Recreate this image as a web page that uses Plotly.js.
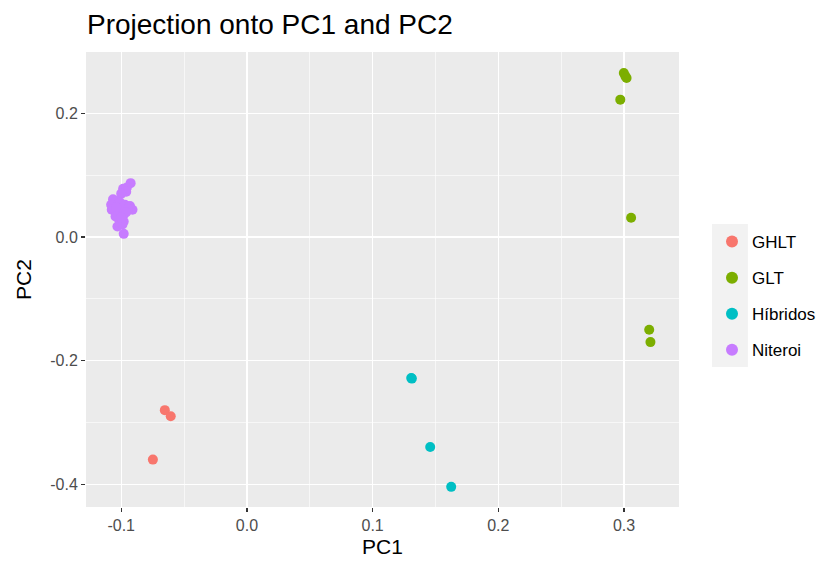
<!DOCTYPE html>
<html>
<head>
<meta charset="utf-8">
<script src="https://cdn.plot.ly/plotly-3.0.1.min.js"></script>
<style>html,body{margin:0;padding:0;background:#fff;}#chart{width:832px;height:561px;}</style>
</head>
<body>
<div id="chart"></div>
<script>
// Data
const groups = ['GHLT', 'GLT', 'Híbridos', 'Niteroi'];
const colors = ['#F8766D', '#7CAE00', '#00BFC4', '#C77CFF'];

const ghltPC1 = [-0.0653, -0.0606, -0.0748];
const ghltPC2 = [-0.280, -0.290, -0.360];

const gltPC1 = [0.2998, 0.3010, 0.3020, 0.2970, 0.3056, 0.3200, 0.3210];
const gltPC2 = [0.2650, 0.2600, 0.2570, 0.2220, 0.0310, -0.1500, -0.1700];

const hibPC1 = [0.1307, 0.1312, 0.1458, 0.1625];
const hibPC2 = [-0.228, -0.229, -0.3395, -0.404];

const nitPC1 = [-0.0925, -0.0955, -0.0985, -0.0960, -0.1000, -0.1065, -0.1040, -0.1080, -0.1075, -0.1010, -0.0970, -0.0930, -0.0910, -0.1035, -0.0980, -0.0950, -0.1020, -0.0980, -0.1030, -0.0990, -0.0980, -0.1000, -0.1040, -0.0960, -0.1045, -0.1000];
const nitPC2 = [0.087, 0.080, 0.078, 0.073, 0.070, 0.061, 0.058, 0.052, 0.044, 0.056, 0.052, 0.050, 0.044, 0.039, 0.036, 0.045, 0.029, 0.025, 0.017, 0.020, 0.005, 0.046, 0.048, 0.040, 0.033, 0.031];

const xTickVals = [-0.1, 0.0, 0.1, 0.2, 0.3];
const xTickText = ['-0.1', '0.0', '0.1', '0.2', '0.3'];
const xMinorVals = [-0.05, 0.05, 0.15, 0.25];
const yTickVals = [0.2, 0.0, -0.2, -0.4];
const yTickText = ['0.2', '0.0', '-0.2', '-0.4'];
const yMinorVals = [0.1, -0.1, -0.3];

const xs = [ghltPC1, gltPC1, hibPC1, nitPC1];
const ys = [ghltPC2, gltPC2, hibPC2, nitPC2];

const traces = groups.map((g, i) => ({
  type: 'scatter',
  mode: 'markers',
  name: g,
  legendgroup: g,
  x: xs[i],
  y: ys[i],
  marker: {color: colors[i], size: 10, line: {width: 0}},
  hoverinfo: 'x+y+name'
}));

const fontFam = 'Liberation Sans, Arial, sans-serif';

const layout = {
  width: 832,
  height: 561,
  paper_bgcolor: '#ffffff',
  plot_bgcolor: '#EBEBEB',
  margin: {l: 86, r: 152, t: 52, b: 54, pad: 0},
  font: {family: fontFam, color: '#000000'},
  title: {
    text: 'Projection onto PC1 and PC2',
    font: {family: fontFam, size: 28, color: '#000000'},
    x: 87 / 832, xanchor: 'left', xref: 'container',
    y: 1 - 24 / 561, yanchor: 'middle', yref: 'container'
  },
  xaxis: {
    range: [-0.128, 0.3437],
    tickmode: 'array', tickvals: xTickVals, ticktext: xTickText,
    ticks: 'outside', ticklen: 4, tickwidth: 1.2, tickcolor: '#333333',
    tickfont: {family: fontFam, size: 16, color: '#4D4D4D'},
    showgrid: true, gridcolor: '#FFFFFF', gridwidth: 1.3,
    minor: {tickmode: 'array', tickvals: xMinorVals, showgrid: true, gridcolor: '#FFFFFF', gridwidth: 0.6, ticks: ''},
    zeroline: false, showline: false,
    title: {text: 'PC1', font: {family: fontFam, size: 21, color: '#000000'}, standoff: 6}
  },
  yaxis: {
    range: [-0.4366, 0.299],
    tickmode: 'array', tickvals: yTickVals, ticktext: yTickText,
    ticks: 'outside', ticklen: 4, tickwidth: 1.2, tickcolor: '#333333',
    tickfont: {family: fontFam, size: 16, color: '#4D4D4D'},
    showgrid: true, gridcolor: '#FFFFFF', gridwidth: 1.3,
    minor: {tickmode: 'array', tickvals: yMinorVals, showgrid: true, gridcolor: '#FFFFFF', gridwidth: 0.6, ticks: ''},
    zeroline: false, showline: false,
    title: {text: 'PC2', font: {family: fontFam, size: 21, color: '#000000'}, standoff: 12}
  },
  showlegend: true,
  legend: {
    x: (712 - 86) / 594, xanchor: 'left',
    y: (507 - 224) / 455, yanchor: 'top',
    bgcolor: 'rgba(0,0,0,0)', borderwidth: 0,
    font: {family: fontFam, size: 17, color: '#000000'},
    tracegroupgap: 11,
    itemsizing: 'constant'
  },
  shapes: [{
    type: 'rect', xref: 'paper', yref: 'paper', layer: 'below',
    x0: (713 - 86) / 594, x1: (749 - 86) / 594,
    y0: (507 - 367) / 455, y1: (507 - 224) / 455,
    fillcolor: '#F2F2F2', line: {width: 0}
  }]
};

Plotly.newPlot('chart', traces, layout, {displayModeBar: false, staticPlot: true});
</script>
</body>
</html>
